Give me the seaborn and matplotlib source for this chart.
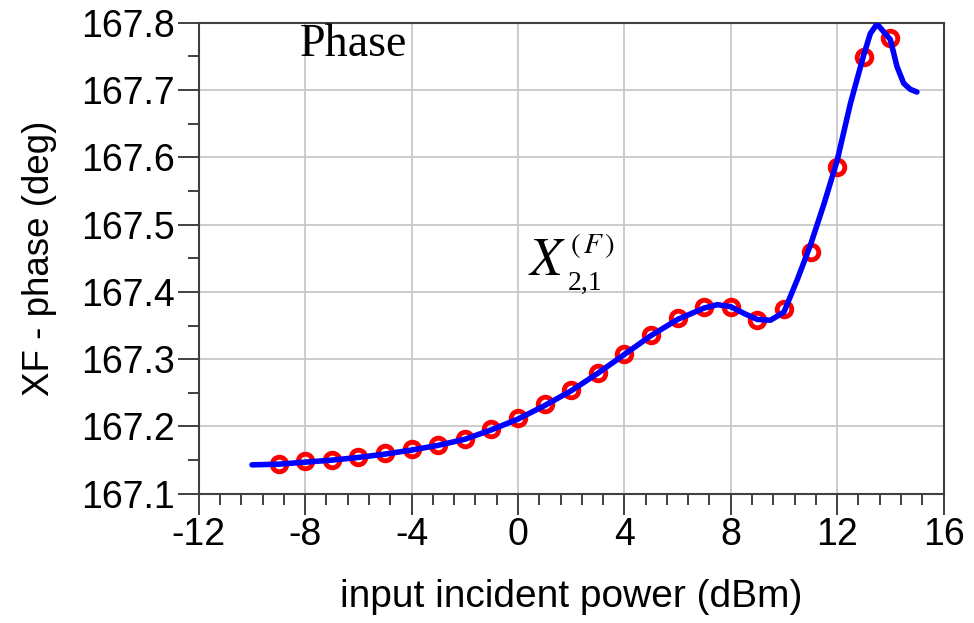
import matplotlib
matplotlib.use("Agg")
import matplotlib.pyplot as plt
import matplotlib.ticker as mticker
import seaborn as sns
import pandas as pd

# measured samples (red circles)
meas_x = [-9, -8, -7, -6, -5, -4, -3, -2, -1, 0, 1, 2, 3, 4, 5, 6, 7, 8, 9, 10, 11, 12, 13, 14]
meas_y = [167.145, 167.148, 167.150, 167.155, 167.160, 167.166, 167.172, 167.181, 167.197,
          167.212, 167.233, 167.254, 167.279, 167.308, 167.336, 167.361, 167.377, 167.377,
          167.358, 167.374, 167.460, 167.586, 167.749, 167.777]

# model curve (blue line)
model_x = [-10, -9, -8, -7, -6, -5, -4, -3, -2, -1, 0, 1, 2, 3, 4, 5, 6, 7, 7.5, 8, 8.5,
           9, 9.5, 10, 10.5, 11, 11.5, 12, 12.5, 13, 13.25, 13.5, 14, 14.25, 14.5, 14.75, 15]
model_y = [167.143, 167.144, 167.147, 167.150, 167.154, 167.159, 167.165, 167.172, 167.181,
           167.195, 167.211, 167.231, 167.253, 167.279, 167.307, 167.335, 167.359, 167.376,
           167.381, 167.378, 167.368, 167.359, 167.358, 167.370, 167.418, 167.470, 167.530,
           167.595, 167.680, 167.752, 167.784, 167.798, 167.775, 167.735, 167.710, 167.701,
           167.697]

x_ticks = [-12, -8, -4, 0, 4, 8, 12, 16]
y_ticks = [167.1, 167.2, 167.3, 167.4, 167.5, 167.6, 167.7, 167.8]

sns.set_style("white")
plt.rcParams["font.family"] = ["Liberation Sans", "DejaVu Sans"]
plt.rcParams["mathtext.fontset"] = "stix"
plt.rcParams["text.color"] = "black"
plt.rcParams["axes.labelcolor"] = "black"
plt.rcParams["xtick.labelcolor"] = "black"
plt.rcParams["ytick.labelcolor"] = "black"

fig = plt.figure(figsize=(9.74, 6.23), dpi=100)
ax = fig.add_axes([0.2041, 0.2074, 0.7646, 0.7562])

meas = pd.DataFrame({"x": meas_x, "y": meas_y})
model = pd.DataFrame({"x": model_x, "y": model_y})

sns.lineplot(data=meas, x="x", y="y", ax=ax, linestyle="", marker="o", markersize=10.5,
             markerfacecolor="none", markeredgecolor="#ff0000", markeredgewidth=3.5,
             zorder=3)
sns.lineplot(data=model, x="x", y="y", ax=ax, color="#0000ff", linewidth=4, zorder=4,
             sort=False)

ax.set_xlim(-12, 16)
ax.set_ylim(167.1, 167.8)
ax.set_xticks(x_ticks)
ax.set_yticks(y_ticks)
ax.xaxis.set_minor_locator(mticker.MultipleLocator(0.8))
ax.yaxis.set_minor_locator(mticker.MultipleLocator(0.05))
ax.yaxis.set_major_formatter(mticker.FormatStrFormatter("%.1f"))
ax.xaxis.set_major_formatter(mticker.FuncFormatter(lambda v, p: f"{int(round(v))}"))

ax.grid(True, which="major", color="#c8c8c8", linewidth=1.3)
ax.set_axisbelow(True)
for s in ax.spines.values():
    s.set_color("#404040")
    s.set_linewidth(1.5)
    s.set_visible(True)

ax.tick_params(axis="both", which="major", direction="out", length=15, width=1.4,
               color="#404040", labelsize=27, pad=2, bottom=True, left=True,
               top=False, right=False)
ax.tick_params(axis="both", which="minor", direction="out", length=8, width=1.4,
               color="#404040", bottom=True, left=True, top=False, right=False)

ax.set_xlabel("input incident power (dBm)", fontsize=28)
ax.set_ylabel("XF - phase (deg)", fontsize=26.5)
ax.xaxis.set_label_coords(0.5, -0.18)
ax.yaxis.set_label_coords(-0.19, 0.5)

ax.text(-8.2, 167.751, "Phase", family="Liberation Serif", fontsize=33,
        ha="left", va="baseline")
ax.text(0.376, 167.425, r"$X$", fontsize=38, ha="left", va="baseline")
ax.text(1.88, 167.403, "2,1", family="Liberation Serif", fontsize=20,
        ha="left", va="baseline")
ax.text(1.955, 167.458, r"$(\,F\,)$", fontsize=21, ha="left", va="baseline")

fig.savefig("out.png", dpi=100)
